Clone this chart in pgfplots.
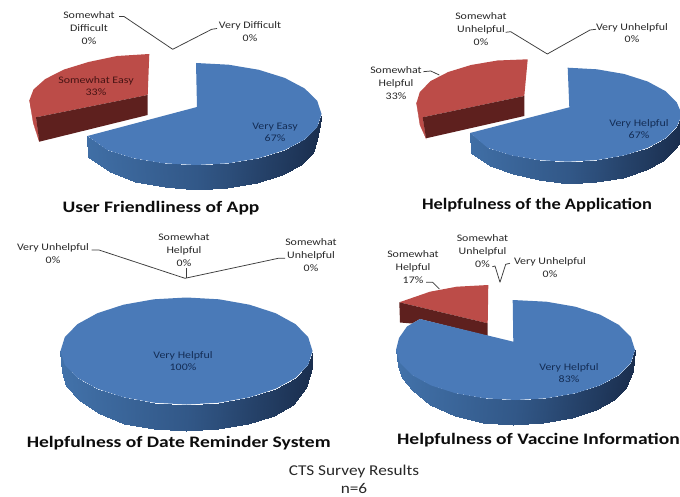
\documentclass[border=0pt]{standalone}
\usepackage{pgfplots}
\pgfplotsset{compat=1.18}
\usepackage{fontspec}
\setmainfont{Carlito}
\newfontfamily\lf{Carlito}[FakeStretch=1.19]
\newfontfamily\tf{Carlito}[FakeStretch=1.22]
\newfontfamily\tfb{Carlito}[FakeStretch=1.15]
\newfontfamily\ff{Carlito}[FakeStretch=1.15]
\definecolor{bluetop}{RGB}{74,122,184}
\definecolor{redtop}{RGB}{188,76,72}
\definecolor{redcut}{RGB}{94,32,30}
\definecolor{leader}{RGB}{60,60,60}
\definecolor{lbl}{RGB}{40,40,40}
\definecolor{lblred}{RGB}{70,20,20}
\definecolor{lblblue}{RGB}{20,45,85}
\pgfplotsset{colormap={bluewall}{rgb255=(66,114,170) rgb255=(50,88,136) rgb255=(26,46,78)}}
\newcommand{\lab}[4][lbl]{\node[align=center,text=#1,inner sep=0pt,font=\lf\fontsize{10}{12.6}\selectfont] at (axis cs:#2,#3) {#4};}
\newcommand{\ttl}[4][\tf]{\node[inner sep=0pt,font=#1\fontsize{16}{18}\selectfont\bfseries,text=black!95] at (axis cs:#2,#3) {#4};}
\tikzset{lead/.style={draw=leader,line width=0.75pt,line join=round}}
\begin{document}
\begin{tikzpicture}
\begin{axis}[scale only axis,width=680pt,height=497pt,xmin=0,xmax=680,ymin=0,ymax=497,y dir=reverse,
  hide axis,clip=false,point meta min=0,point meta max=1,colormap name=bluewall]
\addplot[draw=none,fill=white,forget plot] coordinates {(0,0)(680,0)(680,497)(0,497)} --cycle;

% ---- Pie 1: User Friendliness of App (33 / 67)
\addplot[fill=redtop,draw=redtop,line width=0.3pt] coordinates {(29.5,100)(33.3,123)(39.3,141.7)(36,117.3)} --cycle;
\addplot[fill=redtop,draw=none] coordinates {(149.3,54)(117,56)(88.5,62)(64.1,69.5)(45.3,79)(33.5,89.5)(29.5,100)(31,109)(36,117.3)(147.7,95)} --cycle;
\addplot[fill=redcut,draw=none] coordinates {(36,117.3)(147.7,95)(147.7,115)(39.3,141.7)} --cycle;
\addplot[surf,shader=interp,mesh/rows=2,point meta=explicit] coordinates {
(321.5,114) [1] (317.2,127.2) [.98] (304.7,139.5) [.93] (284.7,150.1) [.85] (258.8,158.2) [.75] (228.5,163.3) [.62] (196,165) [.5] (163.5,163.3) [.38] (133.2,158.2) [.25] (107.3,150.1) [.15] (87.5,136) [.07]
(317,140) [1] (312.9,152.9) [.98] (300.8,165) [.93] (281.6,175.4) [.85] (256.5,183.3) [.75] (227.3,188.3) [.62] (196,190) [.5] (164.7,187.5) [.38] (135.5,181.5) [.25] (110,172) [.15] (88.5,157) [.07]
};
\addplot[fill=bluetop,draw=none] coordinates {(196,63)(228.5,64.7)(258.8,69.8)(284.7,77.9)(304.7,88.5)(317.2,100.8)(321.5,114)(317.2,127.2)(304.7,139.5)(284.7,150.1)(258.8,158.2)(228.5,163.3)(196,165)(163.5,163.3)(133.2,158.2)(107.3,150.1)(87.5,136)(197,107)} --cycle;
\addplot[lead] coordinates {(119,16.5)(124,16.5)(172.7,49.3)(211.7,29.3)(217,28.5)};
\lab{89}{28}{Somewhat\\Difficult\\0\%}
\lab{250}{31.5}{Very Difficult\\0\%}
\lab[lblred]{96}{86}{Somewhat Easy\\33\%}
\lab[lblblue]{275}{132.5}{Very Easy\\67\%}
\ttl{161}{208}{User Friendliness of App}

% ---- Pie 2: Helpfulness of the Application (33 / 67)
\addplot[fill=redtop,draw=redtop,line width=0.3pt] coordinates {(416.5,103)(420,125)(426,138.3)(422.7,117.3)} --cycle;
\addplot[fill=redtop,draw=none] coordinates {(527.7,59.3)(497.5,60.5)(471,65)(448.2,72)(430.7,81)(419.8,92)(416.5,103)(419.8,114.4)(422.7,117.3)(524.3,96)} --cycle;
\addplot[fill=redcut,draw=none] coordinates {(422.7,117.3)(524.3,96)(524.3,116)(426,138.3)} --cycle;
\addplot[surf,shader=interp,mesh/rows=2,point meta=explicit] coordinates {
(680,119) [1] (676.8,126.9) [.98] (665.6,138.2) [.93] (647.6,147.9) [.85] (624.2,155.4) [.75] (596.9,160.1) [.62] (567.7,161.7) [.5] (538.5,160.1) [.38] (511.2,155.4) [.25] (487.8,147.9) [.15] (470,133) [.07]
(680,143) [1] (674,149.9) [.98] (663,161) [.93] (645.5,170.5) [.85] (622.7,177.8) [.75] (596.2,182.4) [.62] (567.7,184) [.5] (539.2,180.5) [.38] (512.7,174.5) [.25] (489.9,166.5) [.15] (471,153.5) [.07]
};
\addplot[fill=bluetop,draw=none] coordinates {(567.7,67.7)(596.9,69.3)(624.2,74)(647.6,81.5)(665.6,91.2)(676.8,102.5)(680,110)(680,119)(676.8,126.9)(665.6,138.2)(647.6,147.9)(624.2,155.4)(596.9,160.1)(567.7,161.7)(538.5,160.1)(511.2,155.4)(487.8,147.9)(470,133)(569.3,107.3)} --cycle;
\addplot[lead] coordinates {(505.7,32.3)(510.7,31.7)(547.3,54)(590,30)(596,29.3)};
\addplot[lead] coordinates {(423.3,71.7)(430.7,71)(439.3,75)};
\lab{481}{29}{Somewhat\\Unhelpful\\0\%}
\lab{632}{33}{Very Unhelpful\\0\%}
\lab{396}{83}{Somewhat\\Helpful\\33\%}
\lab[lblblue]{639}{129}{Very Helpful\\67\%}
\ttl[\tfb]{537}{205}{Helpfulness of the Application}

% ---- Pie 3: Helpfulness of Date Reminder System (100)
\addplot[surf,shader=interp,mesh/rows=2,point meta=explicit] coordinates {
(312.5,351) [1] (308.2,364.8) [.98] (295.6,377.8) [.93] (275.6,388.8) [.85] (249.5,397.3) [.75] (219.1,402.7) [.62] (186.5,404.5) [.5] (153.9,402.7) [.38] (123.5,397.3) [.25] (97.4,388.8) [.15] (77.4,377.8) [.07] (64.8,364.8) [.02] (60.5,351) [0]
(311.5,368) [1] (306,388) [.98] (293.4,404.5) [.93] (273.7,415.5) [.85] (248,423.9) [.75] (218.1,429.2) [.62] (186,431) [.5] (153.9,429.2) [.38] (124,423.9) [.25] (98.3,413) [.15] (78.6,400) [.07] (66.2,386) [.02] (62.5,372) [0]
};
\addplot[fill=bluetop,draw=none] coordinates {(186.5,297.5)(219.1,299.3)(249.5,304.7)(275.6,313.2)(295.6,324.2)(308.2,337.2)(312.5,351)(308.2,364.8)(295.6,377.8)(275.6,388.8)(249.5,397.3)(219.1,402.7)(186.5,404.5)(153.9,402.7)(123.5,397.3)(97.4,388.8)(77.4,377.8)(64.8,364.8)(60.5,351)(64.8,337.2)(77.4,324.2)(97.4,313.2)(123.5,304.7)(153.9,299.3)} --cycle;
\addplot[lead] coordinates {(91.7,250)(99,250)(185,278.3)(278.3,258.3)(285,258.3)};
\addplot[lead] coordinates {(186,268.3)(186,278.3)};
\lab{53}{253.5}{Very Unhelpful\\0\%}
\lab{184}{250}{Somewhat\\Helpful\\0\%}
\lab{311}{255}{Somewhat\\Unhelpful\\0\%}
\lab[lblblue]{183}{361}{Very Helpful\\100\%}
\ttl{178.7}{443}{Helpfulness of Date Reminder System}

% ---- Pie 4: Helpfulness of Vaccine Information (17 / 83)
\addplot[fill=redtop,draw=none] coordinates {(488.3,285)(456.7,286.7)(430,291.7)(399.3,302.3)(487.7,323.3)} --cycle;
\addplot[fill=redcut,draw=none] coordinates {(399.3,302.3)(487.7,323.3)(487.7,336)(420,319)(412,323.5)(400,322.5)} --cycle;
\addplot[surf,shader=interp,mesh/rows=2,point meta=explicit] coordinates {
(635,350) [1] (630.9,362.9) [.98] (619,375) [.93] (600,385.4) [.85] (575.3,393.3) [.75] (546.4,398.3) [.62] (515.5,400) [.5] (484.6,398.3) [.38] (455.7,393.3) [.25] (431,385.4) [.15] (412,375) [.07] (400.1,362.9) [.02] (396,350) [0]
(633,371) [1] (626,387.9) [.98] (614.3,400) [.93] (595.7,410.4) [.85] (571.5,418.3) [.75] (543.3,423.3) [.62] (513,425) [.5] (482.7,423.3) [.38] (454.5,416) [.25] (430.3,405) [.15] (412,390) [.07] (402,378) [.02] (398,366) [0]
};
\addplot[fill=bluetop,draw=none] coordinates {(512.7,300)(546.4,301.7)(575.3,306.7)(600,314.6)(619,325)(630.9,337.1)(635,350)(630.9,362.9)(619,375)(600,385.4)(575.3,393.3)(546.4,398.3)(515.5,400)(484.6,398.3)(455.7,393.3)(431,385.4)(412,375)(400.1,362.9)(396,350)(399,338)(407,326.5)(420,319)(513.3,341.7)} --cycle;
\addplot[lead] coordinates {(492.3,266.7)(495,266)(500,282.3)(505.7,264.3)(510,263.3)};
\addplot[lead] coordinates {(426,282.3)(432.7,282.3)(439.3,289)};
\lab{413}{267}{Somewhat\\Helpful\\17\%}
\lab{482.5}{251}{Somewhat\\Unhelpful\\0\%}
\lab{550}{267.5}{Very Unhelpful\\0\%}
\lab[lblblue]{569}{373}{Very Helpful\\83\%}
\ttl{538.5}{440}{Helpfulness of Vaccine Information}

% ---- Footer
\node[inner sep=0pt,font=\ff\fontsize{15}{18}\selectfont,text=lbl] at (axis cs:354,471) {CTS Survey Results};
\node[inner sep=0pt,font=\ff\fontsize{15}{18}\selectfont,text=lbl] at (axis cs:354,488) {n=6};
\end{axis}
\end{tikzpicture}
\end{document}
